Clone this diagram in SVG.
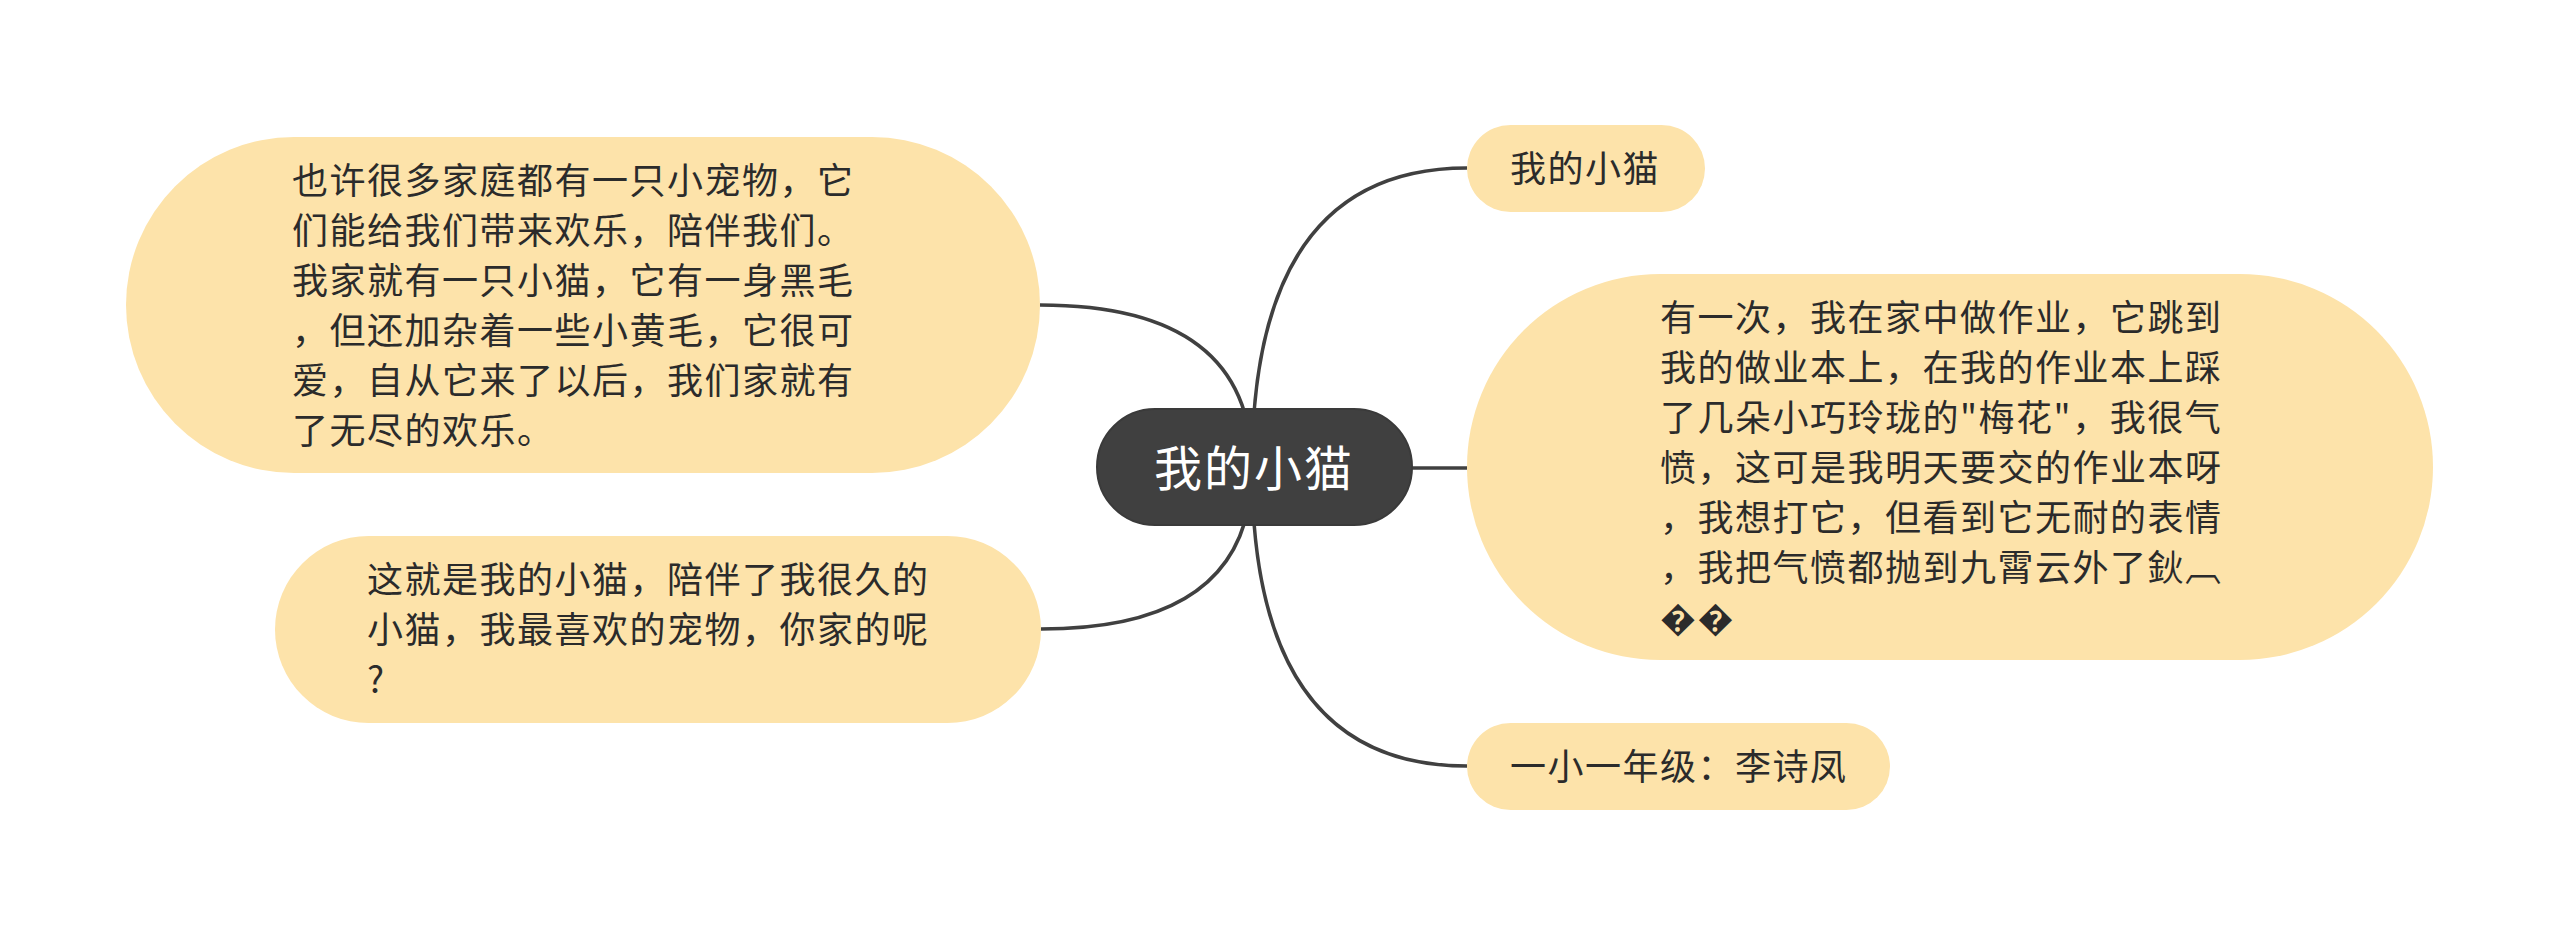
<svg xmlns="http://www.w3.org/2000/svg" width="2560" height="935" viewBox="0 0 2560 935">
<style>
.bg{fill:#ffffff}
.node{fill:#FDE3AA}
.root{fill:#404040;stroke:#3a3a3a;stroke-width:2}
.t{font-family:"Noto Sans CJK SC","Noto Sans",sans-serif;font-size:36px;letter-spacing:1.5px;fill:#2b2b2b}
.rt{font-family:"Noto Sans CJK SC","Noto Sans",sans-serif;font-size:48px;letter-spacing:2px;fill:#ffffff}
.link{fill:none;stroke:#404040;stroke-width:3.5}
</style>
<rect class="bg" x="0" y="0" width="2560" height="935"/>
<g id="connectors">
<path class="link" d="M1252,468 Q1252,168 1467,168"/>
<path class="link" d="M1252,468 L1467,468"/>
<path class="link" d="M1252,468 Q1252,766 1467,766"/>
<path class="link" d="M1252,468 Q1252,305 1040,305"/>
<path class="link" d="M1252,468 Q1252,629 1041,629"/>
</g>
<g id="root">
<rect class="root" x="1097" y="409" width="315" height="116" rx="58"/>
<text class="rt" x="1254" y="486" text-anchor="middle">我的小猫</text>
</g>
<g id="node-left-top">
<rect class="node" x="126" y="137" width="914" height="336" rx="168"/>
<text class="t">
<tspan x="292" y="194">也许很多家庭都有一只小宠物，它</tspan>
<tspan x="292" y="244">们能给我们带来欢乐，陪伴我们。</tspan>
<tspan x="292" y="294">我家就有一只小猫，它有一身黑毛</tspan>
<tspan x="292" y="344">，但还加杂着一些小黄毛，它很可</tspan>
<tspan x="292" y="394">爱，自从它来了以后，我们家就有</tspan>
<tspan x="292" y="444">了无尽的欢乐。</tspan>
</text>
</g>
<g id="node-left-bottom">
<rect class="node" x="275" y="536" width="766" height="187" rx="93.5"/>
<text class="t">
<tspan x="367" y="593">这就是我的小猫，陪伴了我很久的</tspan>
<tspan x="367" y="643">小猫，我最喜欢的宠物，你家的呢</tspan>
<tspan x="367" y="693">?</tspan>
</text>
</g>
<g id="node-right-top">
<rect class="node" x="1467" y="125" width="238" height="87" rx="43.5"/>
<text class="t" x="1510" y="182">我的小猫</text>
</g>
<g id="node-right-middle">
<rect class="node" x="1467" y="274" width="966" height="386" rx="193"/>
<text class="t">
<tspan x="1660" y="331">有一次，我在家中做作业，它跳到</tspan>
<tspan x="1660" y="381">我的做业本上，在我的作业本上踩</tspan>
<tspan x="1660" y="431">了几朵小巧玲珑的"梅花"，我很气</tspan>
<tspan x="1660" y="481">愤，这可是我明天要交的作业本呀</tspan>
<tspan x="1660" y="531">，我想打它，但看到它无耐的表情</tspan>
<tspan x="1660" y="581">，我把气愤都抛到九霄云外了鈥︹</tspan>
<tspan x="1660" y="631">��</tspan>
</text>
</g>
<g id="node-right-bottom">
<rect class="node" x="1467" y="723" width="423" height="87" rx="43.5"/>
<text class="t" x="1510" y="780">一小一年级：李诗凤</text>
</g>
</svg>
